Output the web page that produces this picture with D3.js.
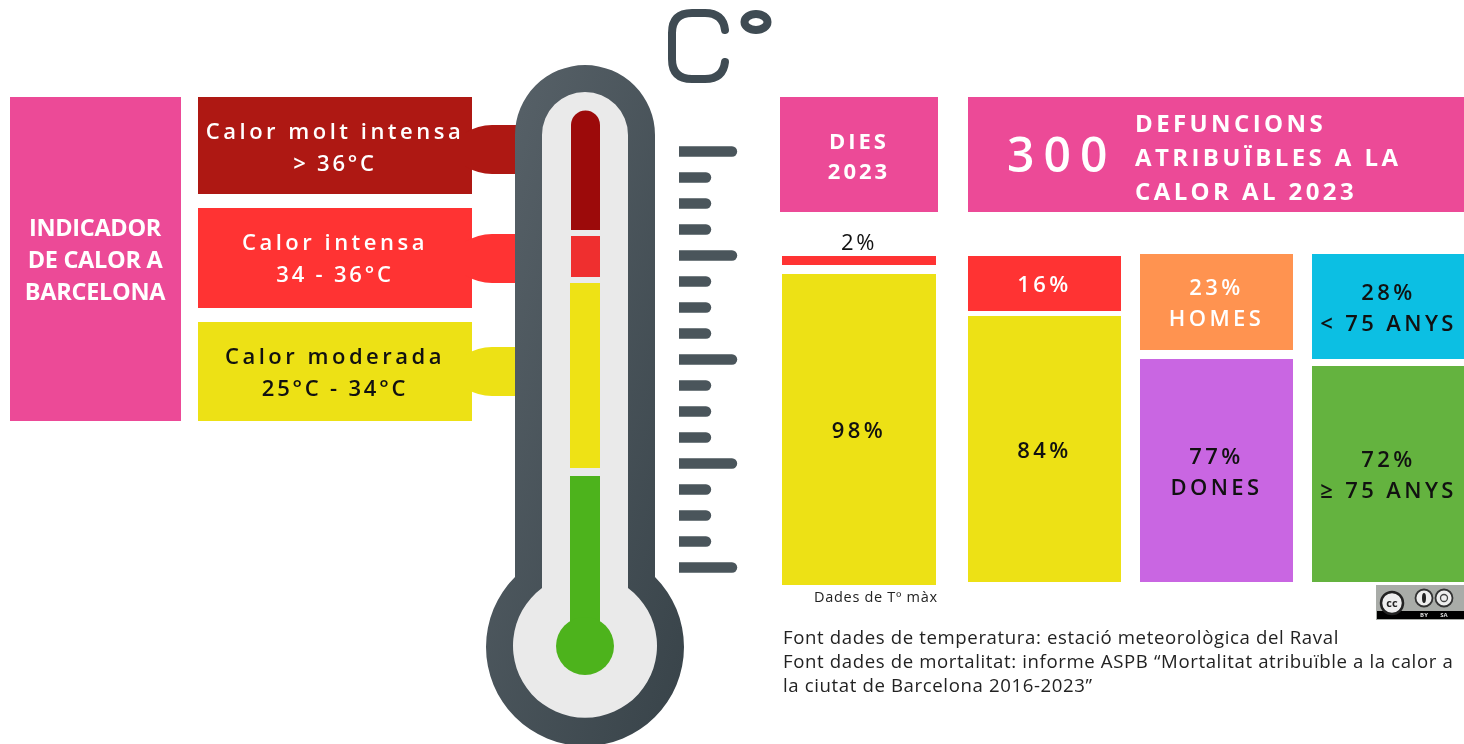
<!DOCTYPE html>
<html>
<head>
<meta charset="utf-8">
<script src="https://cdn.jsdelivr.net/npm/d3@7"></script>
<style>
  html, body { margin: 0; padding: 0; background: #fff; overflow: hidden; }
  svg { display: block; filter: blur(0.7px); }
  text { font-family: "Open Sans", sans-serif; }
</style>
</head>
<body>
<div id="chart"></div>
<script>
// levels of heat, top to bottom
const levelNames = ['Calor molt intensa', 'Calor intensa', 'Calor moderada'];
const levelRanges = ['> 36°C', '34 - 36°C', '25°C - 34°C'];
const levelColors = ['#AE1813', '#FF3333', '#EDE115'];

// stacked columns: lower value / upper value
const columns = ['dies', 'nivell', 'sexe', 'edat'];
const lowerValues = [98, 84, 77, 72];
const upperValues = [2, 16, 23, 28];
const lowerLabels = [[], [], ['DONES'], ['≥ 75 ANYS']];
const upperLabels = [[], [], ['HOMES'], ['< 75 ANYS']];
const lowerColors = ['#EDE115', '#EDE115', '#C966E2', '#64B33F'];
const upperColors = ['#FF3333', '#FF3333', '#FF9350', '#0CBFE3'];

// thermometer
const mercuryColors = ['#9C0A0A', '#EF2F2F', '#EEE215', '#4DB31C'];
const thermoTicks = ['long', 'short', 'short', 'short', 'long', 'short', 'short', 'short', 'long',
  'short', 'short', 'short', 'long', 'short', 'short', 'short', 'long'];

const sourceLines = [
  'Font dades de temperatura: estació meteorològica del Raval',
  'Font dades de mortalitat: informe ASPB “Mortalitat atribuïble a la calor a',
  'la ciutat de Barcelona 2016-2023”'
];

const width = 1464;
const height = 744;
const pink = '#EC4A97';
const dark = '#111';

const svg = d3.select('#chart').append('svg')
  .attr('width', width)
  .attr('height', height);

const defs = svg.append('defs');
const grad = defs.append('linearGradient')
  .attr('id', 'steel')
  .attr('x1', '0').attr('y1', '0').attr('x2', '1').attr('y2', '1');
grad.append('stop').attr('offset', '0').attr('stop-color', '#59636a');
grad.append('stop').attr('offset', '1').attr('stop-color', '#384349');

// label helper, lines are centred on cy
function multiLine(g, lines, cx, cy, o) {
  const step = o.step;
  lines.forEach((t, i) => {
    g.append('text')
      .attr('x', cx)
      .attr('y', cy + (i - (lines.length - 1) / 2) * step)
      .attr('dy', '0.36em')
      .attr('text-anchor', o.anchor || 'middle')
      .attr('font-size', o.size)
      .attr('font-weight', o.weight || 600)
      .attr('letter-spacing', o.spacing || 0)
      .attr('fill', o.fill)
      .text(t);
  });
}

// LEFT PINK BOX
svg.append('rect').attr('x', 10).attr('y', 97).attr('width', 171).attr('height', 324).attr('fill', pink);
multiLine(svg, ['INDICADOR', 'DE CALOR A', 'BARCELONA'], 95, 259.5, { size: 23.5, step: 32, fill: '#fff', weight: 700, spacing: -0.3 });

// LEVEL BOXES + CONNECTORS
const levelY = d3.scaleOrdinal(levelNames, [97, 208, 322]);
const levelH = d3.scaleOrdinal(levelNames, [97, 100, 99]);
const connectorY = d3.scaleOrdinal(levelNames, [125, 234, 347]);

const levels = svg.selectAll('g.level').data(levelNames).enter().append('g').attr('class', 'level');
levels.append('rect')
  .attr('x', 198)
  .attr('y', d => levelY(d))
  .attr('width', 274)
  .attr('height', d => levelH(d))
  .attr('fill', (d, i) => levelColors[i]);
levels.append('text')
  .attr('x', 335)
  .attr('y', d => levelY(d) + 34)
  .attr('dy', '0.36em')
  .attr('text-anchor', 'middle')
  .attr('font-size', 22)
  .attr('font-weight', 600)
  .attr('letter-spacing', 3.5)
  .attr('fill', (d, i) => i === 2 ? dark : '#fff')
  .text(d => d);
levels.append('text')
  .attr('x', 335)
  .attr('y', d => levelY(d) + 66)
  .attr('dy', '0.36em')
  .attr('text-anchor', 'middle')
  .attr('font-size', 22)
  .attr('font-weight', 600)
  .attr('letter-spacing', 2.8)
  .attr('fill', (d, i) => i === 2 ? dark : '#fff')
  .text((d, i) => levelRanges[i]);
levels.append('path')
  .attr('d', d => {
    const y = connectorY(d);
    return `M465,${y + 8} Q478,${y} 492,${y} H520 V${y + 49} H492 Q478,${y + 49} 465,${y + 41} Z`;
  })
  .attr('fill', (d, i) => levelColors[i]);

// THERMOMETER
const thermo = svg.append('g');
thermo.append('path')
  .attr('d', 'M515,135 A70,70 0 0 1 655,135 V577 A99,99 0 1 1 515,577 Z')
  .attr('fill', 'url(#steel)');
thermo.append('path')
  .attr('d', 'M542,135 A43,43 0 0 1 628,135 V588 A72,72 0 1 1 542,588 Z')
  .attr('fill', '#EAEAEA');

thermo.append('path')
  .attr('d', 'M571,230 V125 A14.5,14.5 0 0 1 600,125 V230 Z')
  .attr('fill', mercuryColors[0]);
thermo.append('rect').attr('x', 571).attr('y', 236).attr('width', 29).attr('height', 41).attr('fill', mercuryColors[1]);
thermo.append('rect').attr('x', 570).attr('y', 283).attr('width', 30).attr('height', 185).attr('fill', mercuryColors[2]);
thermo.append('rect').attr('x', 570).attr('y', 476).attr('width', 30).attr('height', 170).attr('fill', mercuryColors[3]);
thermo.append('circle').attr('cx', 585).attr('cy', 646).attr('r', 29).attr('fill', mercuryColors[3]);

// thermometer scale ticks
const tickY = d3.scalePoint(d3.range(thermoTicks.length), [151.5, 567.5]);
const tickLen = d3.scaleOrdinal(['long', 'short'], [58, 32]);
thermo.selectAll('path.tick').data(thermoTicks).enter().append('path')
  .attr('class', 'tick')
  .attr('d', (d, i) => {
    const y = tickY(i) - 5.2;
    const w = tickLen(d);
    return `M679,${y} H${679 + w - 5} a5.2,5.2 0 0 1 0,10.4 H679 Z`;
  })
  .attr('fill', '#4a555b');

// C degree mark
svg.append('path')
  .attr('d', 'M725,30 Q723,13 705,13 H692 Q672,13 672,33 V59 Q672,79 692,79 H705 Q723,79 725,62')
  .attr('fill', 'none')
  .attr('stroke', '#3F4B53')
  .attr('stroke-width', 8)
  .attr('stroke-linecap', 'round');
svg.append('ellipse')
  .attr('cx', 756).attr('cy', 22).attr('rx', 11.5).attr('ry', 8)
  .attr('fill', 'none').attr('stroke', '#3F4B53').attr('stroke-width', 8);

// HEADERS
svg.append('rect').attr('x', 780).attr('y', 97).attr('width', 158).attr('height', 115).attr('fill', pink);
multiLine(svg, ['DIES', '2023'], 859, 156, { size: 22, step: 30, fill: '#fff', weight: 700, spacing: 3 });

svg.append('rect').attr('x', 968).attr('y', 97).attr('width', 496).attr('height', 115).attr('fill', pink);
svg.append('text')
  .attr('x', 1007).attr('y', 155).attr('dy', '0.36em')
  .attr('font-size', 48).attr('font-weight', 600).attr('letter-spacing', 9)
  .attr('fill', '#fff')
  .text('300');
['DEFUNCIONS', 'ATRIBUÏBLES A LA', 'CALOR AL 2023'].forEach((t, i) => {
  svg.append('text')
    .attr('x', 1135).attr('y', 123 + i * 34).attr('dy', '0.36em')
    .attr('font-size', 24).attr('font-weight', 700).attr('letter-spacing', 3.4)
    .attr('fill', '#fff')
    .text(t);
});

// STACKED COLUMNS
const colX = d3.scaleOrdinal(columns, [782, 968, 1140, 1312]);
const colW = d3.scaleOrdinal(columns, [154, 153, 153, 153]);
// drawn heights in the original are not strictly proportional, so each column has its own scale
const colY = {
  dies: { y: d3.scaleLinear([0, lowerValues[0], 100], [585, 269.5, 256]), gap: 9 },
  nivell: { y: d3.scaleLinear([0, lowerValues[1], 100], [582, 313.5, 256]), gap: 5 },
  sexe: { y: d3.scaleLinear([0, lowerValues[2], 100], [582, 354.5, 254]), gap: 9 },
  edat: { y: d3.scaleLinear([0, lowerValues[3], 100], [582, 362.5, 254]), gap: 7 }
};

const col = svg.selectAll('g.col').data(columns).enter().append('g').attr('class', 'col');
col.append('rect')
  .attr('x', d => colX(d))
  .attr('width', d => colW(d))
  .attr('y', (d, i) => colY[d].y(lowerValues[i]) + colY[d].gap / 2)
  .attr('height', (d, i) => colY[d].y(0) - colY[d].y(lowerValues[i]) - colY[d].gap / 2)
  .attr('fill', (d, i) => lowerColors[i]);
col.append('rect')
  .attr('x', d => colX(d))
  .attr('width', d => colW(d))
  .attr('y', d => colY[d].y(100))
  .attr('height', (d, i) => colY[d].y(lowerValues[i]) - colY[d].y(100) - colY[d].gap / 2)
  .attr('fill', (d, i) => upperColors[i]);

const labelOpts = { size: 22, step: 31, fill: dark, weight: 600, spacing: 3.4 };
columns.forEach((d, i) => {
  const s = colY[d];
  const cx = colX(d) + colW(d) / 2;
  const lowMid = (s.y(0) + s.y(lowerValues[i]) + s.gap / 2) / 2 + 1;
  const upMid = (s.y(100) + s.y(lowerValues[i]) - s.gap / 2) / 2 + 1;
  multiLine(svg, [lowerValues[i] + '%', ...lowerLabels[i]], cx, lowMid, labelOpts);
  if (i === 0) {
    multiLine(svg, [upperValues[i] + '%'], cx, 242, { ...labelOpts, weight: 500, spacing: 2.5 });
  } else {
    multiLine(svg, [upperValues[i] + '%', ...upperLabels[i]], cx, upMid, {
      ...labelOpts,
      fill: i === 3 ? dark : '#fff'
    });
  }
});

svg.append('text')
  .attr('x', 814).attr('y', 597).attr('dy', '0.36em')
  .attr('font-size', 14.5).attr('letter-spacing', 0.7).attr('fill', '#222')
  .text('Dades de Tº màx');

// SOURCES
sourceLines.forEach((t, i) => {
  svg.append('text')
    .attr('x', 783).attr('y', 637 + i * 24).attr('dy', '0.36em')
    .attr('font-size', 18.6).attr('letter-spacing', 0.62).attr('fill', '#222')
    .text(t);
});

// CC BADGE
const cc = svg.append('g');
cc.append('rect').attr('x', 1376).attr('y', 585).attr('width', 88).attr('height', 35).attr('fill', '#A9ACA8');
cc.append('rect').attr('x', 1377).attr('y', 611).attr('width', 87).attr('height', 8).attr('fill', '#000');
cc.append('circle').attr('cx', 1392).attr('cy', 603).attr('r', 11).attr('fill', '#eee').attr('stroke', '#222').attr('stroke-width', 2.5);
cc.append('text').attr('x', 1392).attr('y', 603).attr('dy', '0.36em').attr('text-anchor', 'middle')
  .attr('font-size', 11).attr('font-weight', 700).attr('fill', '#222').text('cc');
[1424, 1444].forEach((x, i) => {
  cc.append('circle').attr('cx', x).attr('cy', 598).attr('r', 8.5).attr('fill', '#eee').attr('stroke', '#333').attr('stroke-width', 1.8);
  cc.append('ellipse').attr('cx', x).attr('cy', 598).attr('rx', i === 0 ? 2 : 3.5).attr('ry', i === 0 ? 5 : 3.5)
    .attr('fill', i === 0 ? '#222' : 'none').attr('stroke', '#444').attr('stroke-width', i === 0 ? 0 : 1.3);
  cc.append('text').attr('x', x).attr('y', 615).attr('dy', '0.36em').attr('text-anchor', 'middle')
    .attr('font-size', 6).attr('font-weight', 700).attr('fill', '#ddd').text(i === 0 ? 'BY' : 'SA');
});
</script>
</body>
</html>
